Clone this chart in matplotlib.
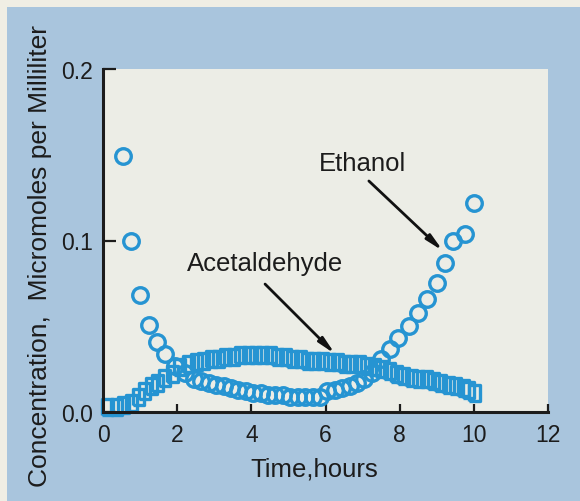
import matplotlib
matplotlib.use('Agg')
import matplotlib.pyplot as plt
import numpy as np

# ethanol (circles), hours vs micromoles/ml
t_ethanol = [0.55, 0.75, 1.0, 1.23, 1.45, 1.68, 1.95, 2.2, 2.45, 2.65, 2.85, 3.05,
             3.25, 3.45, 3.65, 3.85, 4.05, 4.25, 4.45, 4.65, 4.85, 5.05, 5.25, 5.45,
             5.65, 5.85, 6.05, 6.25, 6.45, 6.65, 6.85, 7.05, 7.25, 7.5, 7.75, 7.95,
             8.25, 8.5, 8.75, 9.0, 9.23, 9.45, 9.77, 10.0]
c_ethanol = [0.149, 0.100, 0.068, 0.051, 0.041, 0.034, 0.027, 0.023, 0.019, 0.018, 0.017, 0.016,
             0.015, 0.014, 0.013, 0.012, 0.011, 0.011, 0.010, 0.010, 0.010, 0.009, 0.009, 0.009,
             0.009, 0.009, 0.012, 0.013, 0.014, 0.015, 0.017, 0.019, 0.023, 0.031, 0.037, 0.043,
             0.050, 0.058, 0.066, 0.075, 0.087, 0.100, 0.104, 0.122]

# acetaldehyde (squares)
t_acet = [0.1, 0.35, 0.55, 0.75, 0.95, 1.1, 1.3, 1.45, 1.65, 1.85, 2.05, 2.3, 2.5, 2.7,
          2.9, 3.1, 3.3, 3.5, 3.7, 3.9, 4.1, 4.3, 4.5, 4.7, 4.9, 5.1, 5.3, 5.5, 5.7,
          5.9, 6.1, 6.3, 6.5, 6.7, 6.9, 7.1, 7.3, 7.5, 7.7, 7.9, 8.1, 8.3, 8.5, 8.7,
          8.9, 9.1, 9.3, 9.5, 9.7, 9.85, 10.0]
c_acet = [0.003, 0.003, 0.004, 0.005, 0.009, 0.012, 0.015, 0.017, 0.020, 0.022, 0.026, 0.028, 0.029, 0.030,
          0.031, 0.031, 0.032, 0.032, 0.033, 0.033, 0.033, 0.033, 0.033, 0.032, 0.032, 0.031, 0.031, 0.030, 0.030,
          0.030, 0.029, 0.029, 0.028, 0.028, 0.028, 0.027, 0.026, 0.025, 0.024, 0.022, 0.021, 0.020, 0.019, 0.019,
          0.018, 0.017, 0.016, 0.015, 0.014, 0.013, 0.011]

xticks = [0, 2, 4, 6, 8, 10, 12]
yticks = [0.0, 0.1, 0.2]
ytick_labels = ['0.0', '0.1', '0.2']

blue = '#2694d2'
ink = '#1c1c1c'

plt.rcParams['font.family'] = ['Liberation Sans', 'DejaVu Sans']

fig = plt.figure(figsize=(5.8, 5.02), dpi=100)
fig.patch.set_facecolor('#f0eee4')

# blue panel behind the plot
panel = plt.Rectangle((7 / 580, 0), 1, 1 - 8 / 502, transform=fig.transFigure,
                      facecolor='#a9c5dd', edgecolor='none', zorder=-10)
fig.patches.append(panel)

ax = fig.add_axes([103 / 580, 1 - 413 / 502, 445 / 580, 343 / 502])
ax.set_facecolor('#ecede6')

# tall square marker
rect = [(-0.36, -0.5), (0.36, -0.5), (0.36, 0.5), (-0.36, 0.5), (-0.36, -0.5)]

ax.plot(t_acet, c_acet, linestyle='none', marker=rect, markersize=11,
        markerfacecolor='none', markeredgecolor=blue, markeredgewidth=2.4, clip_on=False)
ax.plot(t_ethanol, c_ethanol, linestyle='none', marker='o', markersize=11.2,
        markerfacecolor='none', markeredgecolor=blue, markeredgewidth=2.4, clip_on=False)

ax.set_xlim(0, 12)
ax.set_ylim(0, 0.2)
ax.set_xticks(xticks)
ax.set_yticks(yticks)
ax.set_yticklabels(ytick_labels)

for s in ['top', 'right']:
    ax.spines[s].set_visible(False)
for s in ['left', 'bottom']:
    ax.spines[s].set_linewidth(2.2)
    ax.spines[s].set_color(ink)

ax.tick_params(axis='x', direction='in', length=6, width=1.6, color=ink,
               labelsize=16.5, labelcolor=ink, pad=8)
ax.tick_params(axis='y', direction='in', length=9.5, width=1.6, color=ink,
               labelsize=16.5, labelcolor=ink, pad=7)

# labels with arrows
ax.text(4.37, 0.0869, 'Acetaldehyde', fontsize=18.5, color=ink, ha='center', va='center')
ax.annotate('', xy=(6.26, 0.0338), xytext=(4.37, 0.0746),
            arrowprops=dict(arrowstyle='-|>,head_width=0.2,head_length=1.0',
                            color='#111111', lw=2.0, shrinkA=0, shrinkB=0))
ax.text(7.01, 0.1452, 'Ethanol', fontsize=18.5, color=ink, ha='center', va='center')
ax.annotate('', xy=(9.17, 0.0939), xytext=(7.17, 0.1347),
            arrowprops=dict(arrowstyle='-|>,head_width=0.2,head_length=1.0',
                            color='#111111', lw=2.0, shrinkA=0, shrinkB=0))

fig.text(314 / 580, 1 - 470 / 502, 'Time,hours', fontsize=18.5, color=ink,
         ha='center', va='center')
fig.text(40 / 580, 1 - 256 / 502, 'Concentration,  Micromoles per Milliliter',
         fontsize=19, color=ink, rotation=90, ha='center', va='center')

fig.savefig('out.png', dpi=100, facecolor=fig.get_facecolor())
